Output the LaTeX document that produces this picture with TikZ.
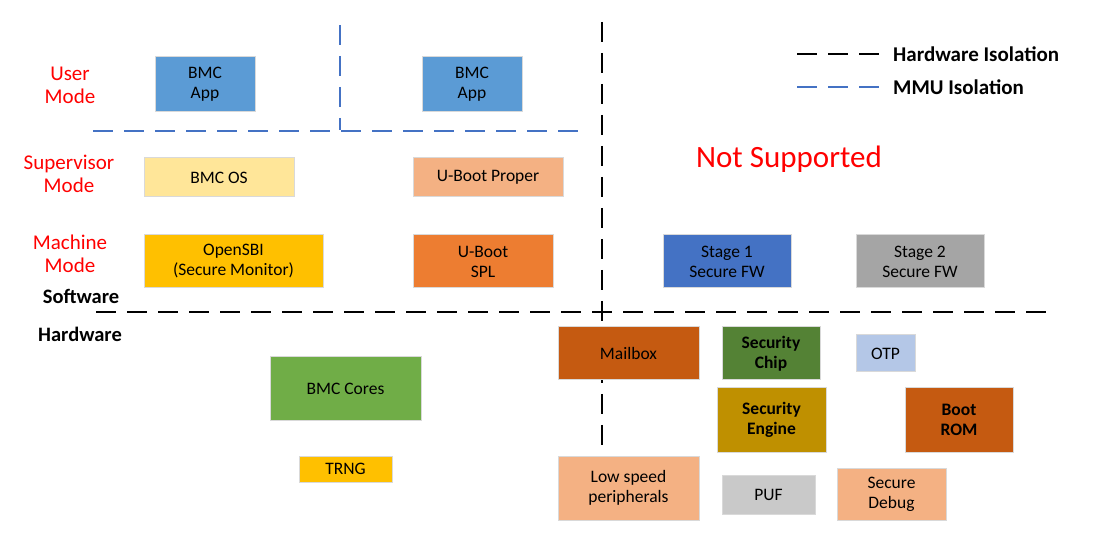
\documentclass[tikz,border=0pt]{standalone}
\usepackage{fontspec}
\setmainfont{Carlito}
\definecolor{mmublue}{HTML}{4472C4}
\definecolor{appblue}{HTML}{5B9BD5}
\definecolor{osyellow}{HTML}{FFE699}
\definecolor{peach}{HTML}{F4B183}
\definecolor{gold}{HTML}{FFC000}
\definecolor{orange}{HTML}{ED7D31}
\definecolor{darkorange}{HTML}{C55A11}
\definecolor{midblue}{HTML}{4472C4}
\definecolor{midgray}{HTML}{A5A5A5}
\definecolor{darkgreen}{HTML}{548235}
\definecolor{lightblue}{HTML}{B4C7E7}
\definecolor{darkgold}{HTML}{BF9000}
\definecolor{lightgray}{HTML}{C9C9C9}
\definecolor{green}{HTML}{70AD47}
\definecolor{boxborder}{HTML}{D9D9D9}
\tikzset{
  blk/.style={draw=boxborder, line width=1pt, align=center, inner sep=0pt,
    font=\fontsize{17.5}{20}\selectfont},
  bblk/.style={blk, font=\fontsize{17.5}{20}\selectfont\bfseries},
  modelabel/.style={text=red, align=center, font=\fontsize{21}{23}\selectfont},
  hwline/.style={black, line width=2.5pt, dash pattern=on 20pt off 11pt},
  mmuline/.style={mmublue, line width=2pt, dash pattern=on 20pt off 11pt},
  legendtext/.style={anchor=west, inner sep=0pt, font=\fontsize{21}{23}\selectfont\bfseries},
  swhw/.style={font=\fontsize{20.5}{23}\selectfont\bfseries}
}
\begin{document}
\begin{tikzpicture}[x=1pt,y=-1pt]
\useasboundingbox (0,0) rectangle (1112,545);
% isolation lines
\coordinate (mv1) at (340,25);
\coordinate (mv2) at (340,130);
\coordinate (mh1) at (93,131);
\coordinate (mh2) at (585,131);
\coordinate (hv1) at (602,22);
\coordinate (hv2) at (602,456);
\coordinate (hh1) at (96,312);
\coordinate (hh2) at (1056,312);
\draw[mmuline] (mv1) -- (mv2);
\draw[mmuline] (mh1) -- (mh2);
\draw[hwline] (hv1) -- (hv2);
\draw[hwline] (hh1) -- (hh2);
% legend
\coordinate (lg1a) at (797,54);
\coordinate (lg1b) at (880,54);
\coordinate (lg2a) at (797,87);
\coordinate (lg2b) at (880,87);
\draw[hwline] (lg1a) -- (lg1b);
\draw[mmuline] (lg2a) -- (lg2b);
\node[legendtext] (lgt1) at (893,54) {Hardware Isolation};
\node[legendtext] (lgt2) at (893,87) {MMU Isolation};
% labels
\node[modelabel] (user) at (70,85) {User\\Mode};
\node[modelabel] (super) at (69,174) {Supervisor\\Mode};
\node[modelabel] (mach) at (70,254) {Machine\\Mode};
\node[swhw] (sw) at (81,296) {Software};
\node[swhw] (hw) at (80,334) {Hardware};
\node[text=red, font=\fontsize{31}{34}\selectfont] (ns) at (789,159) {Not Supported};
% software blocks
\node[blk, fill=appblue, minimum width=100pt, minimum height=55pt] (app1) at (205,84.5) {BMC\\App};
\node[blk, fill=appblue, minimum width=100pt, minimum height=55pt] (app2) at (472,84.5) {BMC\\App};
\node[blk, fill=osyellow, minimum width=150pt, minimum height=39pt] (bmcos) at (219,177.5) {BMC OS};
\node[blk, fill=peach, minimum width=150pt, minimum height=39pt] (ubproper) at (488,177.5) {U-Boot Proper};
\node[blk, fill=gold, minimum width=179pt, minimum height=53pt] (opensbi) at (233.5,261.5) {OpenSBI\\(Secure Monitor)};
\node[blk, fill=orange, minimum width=140pt, minimum height=53pt] (ubspl) at (483,261.5) {U-Boot\\SPL};
\node[blk, fill=midblue, minimum width=128pt, minimum height=53pt] (stage1) at (727,261.5) {Stage 1\\Secure FW};
\node[blk, fill=midgray, minimum width=128pt, minimum height=53pt] (stage2) at (920,261.5) {Stage 2\\Secure FW};
% hardware blocks
\node[blk, fill=darkorange, minimum width=141pt, minimum height=53pt] (mailbox) at (628.5,353.5) {Mailbox};
\node[bblk, fill=darkgreen, minimum width=98pt, minimum height=53pt] (secchip) at (771,353.5) {Security\\Chip};
\node[blk, fill=lightblue, minimum width=59pt, minimum height=37pt] (otp) at (885.5,353.5) {OTP};
\node[bblk, fill=darkgold, minimum width=109pt, minimum height=64pt] (seceng) at (771.5,420) {Security\\Engine};
\node[bblk, fill=darkorange, minimum width=108pt, minimum height=64pt] (bootrom) at (959,420) {Boot\\ROM};
\node[blk, fill=peach, minimum width=141pt, minimum height=64pt] (lowspeed) at (628.5,488) {Low speed\\peripherals};
\node[blk, fill=lightgray, minimum width=93pt, minimum height=39pt] (puf) at (768.5,494.5) {PUF};
\node[blk, fill=peach, minimum width=109pt, minimum height=52pt] (secdebug) at (891.5,494) {Secure\\Debug};
\node[blk, fill=green, minimum width=151pt, minimum height=64pt] (cores) at (345.5,389) {BMC Cores};
\node[blk, fill=gold, minimum width=93pt, minimum height=26pt] (trng) at (345.5,469) {TRNG};
\end{tikzpicture}
\end{document}
